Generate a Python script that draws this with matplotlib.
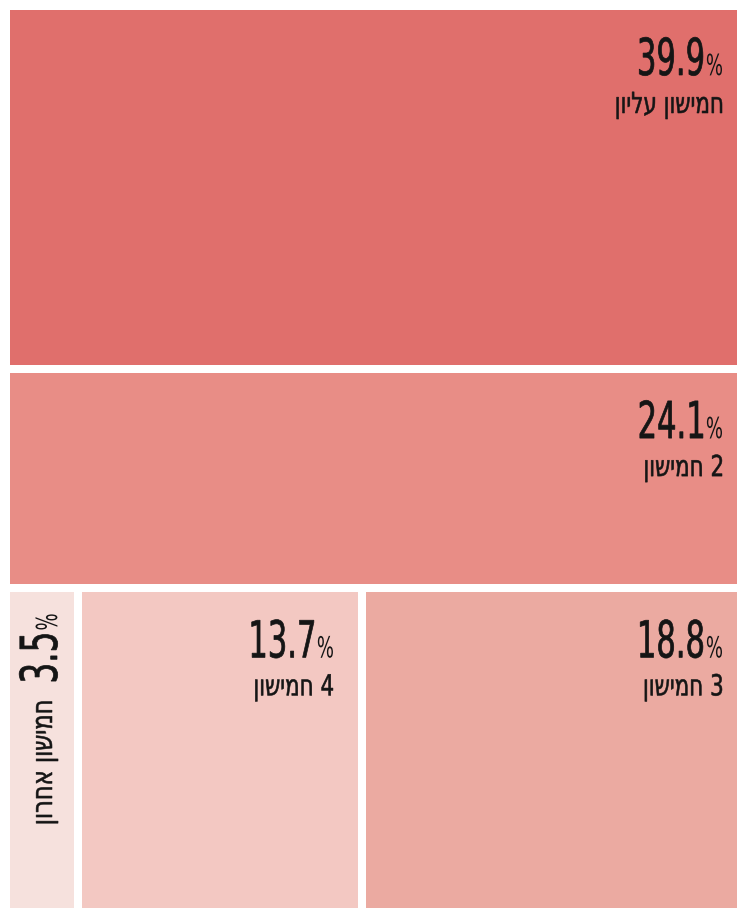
import re
import matplotlib
matplotlib.use("Agg")
import matplotlib.pyplot as plt
from matplotlib.patches import Rectangle, PathPatch
from matplotlib.textpath import TextPath
from matplotlib.font_manager import FontProperties
from matplotlib.transforms import Affine2D

# treemap rows, top to bottom; values in percent
rows = [["top"], ["q2"], ["q5", "q4", "q3"]]
values = {"top": 39.9, "q2": 24.1, "q3": 18.8, "q4": 13.7, "q5": 3.5}
labels = {"top": "חמישון עליון", "q2": "חמישון 2", "q3": "חמישון 3",
          "q4": "חמישון 4", "q5": "חמישון אחרון"}
colors = {"top": "#E06F6C", "q2": "#E88D86", "q3": "#EBAAA1",
          "q4": "#F3C8C2", "q5": "#F6E1DD"}

INK = "#151515"
W, H = 737, 908
fig = plt.figure(figsize=(W / 100, H / 100), dpi=100)
ax = fig.add_axes([0, 0, 1, 1])
ax.set_xlim(0, W)
ax.set_ylim(H, 0)
ax.axis("off")


def visual(s):
    # matplotlib has no bidi: flip the Hebrew runs so they read right to left
    return re.sub(r"[\u0590-\u05FF]+(?: [\u0590-\u05FF]+)*",
                  lambda m: m.group(0)[::-1], s)


def put(s, size, x, y, sq, stroke=0.0, rot=False):
    # condensed text drawn as a path; (x, y) is the baseline point of the
    # right end of the text. rot=True reads bottom to top.
    tp = TextPath((0, 0), s, size=size, prop=FontProperties(family="DejaVu Sans"))
    w = tp.get_extents().x1 * sq
    if rot:
        tr = Affine2D().scale(sq, 1) + Affine2D.from_values(0, -1, -1, 0, x, y + w)
    else:
        tr = Affine2D().scale(sq, -1).translate(x - w, y)
    ax.add_patch(PathPatch(tp, facecolor=INK, edgecolor=INK if stroke else "none",
                           linewidth=stroke, transform=tr + ax.transData))
    return w


# slice layout in pixel units (the picture is cropped on the right and bottom)
x0, y0, tw, th, inset = 6, 6, 745, 910, 4
total = sum(values.values())

y = y0
for row in rows:
    row_sum = sum(values[k] for k in row)
    rh = th * row_sum / total
    x = x0
    for k in row:
        cw = tw * values[k] / row_sum
        left, top = x + inset, y + inset
        right, bottom = x + cw - inset, y + rh - inset
        ax.add_patch(Rectangle((left, top), right - left, bottom - top,
                               facecolor=colors[k], edgecolor="none"))
        num = f"{values[k]:.1f}"
        if right - left < 100:
            # narrow cell: rotated text
            bx, ty = left + 47, top + 22
            pw = put("%", 29, bx, ty, 0.62, rot=True)
            nw = put(num, 51, bx, ty + pw + 4, 0.64, stroke=0.5, rot=True)
            put(visual(labels[k]), 29, bx - 5, ty + pw + nw + 22, 0.78,
                stroke=0.4, rot=True)
        else:
            tx = right - 25
            pw = put("%", 29, tx, top + 65, 0.62)
            put(num, 51, tx - pw - 3, top + 65, 0.6, stroke=0.5)
            put(visual(labels[k]), 29, tx, top + 103, 0.74, stroke=0.4)
        x += cw
    y += rh

fig.savefig("out.png", dpi=100, facecolor="white")
